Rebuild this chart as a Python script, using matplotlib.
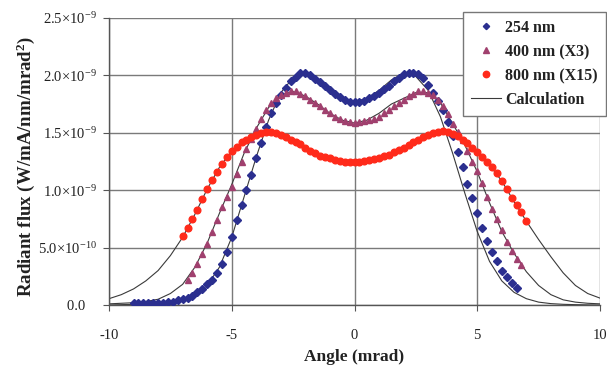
import numpy as np
import matplotlib
matplotlib.use("Agg")
import matplotlib.pyplot as plt
from matplotlib.lines import Line2D

plt.rcParams['font.family'] = ['Liberation Serif', 'DejaVu Serif']
plt.rcParams['mathtext.fontset'] = 'custom'
plt.rcParams['mathtext.rm'] = 'Liberation Serif'
plt.rcParams['mathtext.it'] = 'Liberation Serif:italic'
plt.rcParams['mathtext.bf'] = 'Liberation Serif:bold'

# ---- data (radiant flux in units of 1e-9 W/mA/nm/mrad^2) ----
x_254 = np.round(np.arange(-9.0, 6.61, 0.2), 1)
y_254 = [0.015, 0.015, 0.015, 0.015, 0.02, 0.02, 0.02, 0.025, 0.03, 0.04,
         0.05, 0.06, 0.08, 0.11, 0.14, 0.18, 0.22, 0.28, 0.36, 0.46,
         0.59, 0.74, 0.87, 1.00, 1.13, 1.28, 1.41, 1.55, 1.67, 1.76,
         1.83, 1.89, 1.95, 1.99, 2.02, 2.02, 2.00, 1.97, 1.94, 1.91,
         1.87, 1.84, 1.81, 1.785, 1.77, 1.765, 1.77, 1.78, 1.80, 1.82,
         1.85, 1.88, 1.91, 1.95, 1.98, 2.01, 2.02, 2.02, 2.01, 1.98,
         1.92, 1.85, 1.78, 1.70, 1.59, 1.47, 1.33, 1.20, 1.05, 0.93,
         0.80, 0.67, 0.56, 0.46, 0.38, 0.30, 0.24, 0.19, 0.15]

x_400 = np.round(np.arange(-6.8, 6.81, 0.2), 1)
y_400 = [0.22, 0.28, 0.36, 0.44, 0.53, 0.64, 0.74, 0.85, 0.94, 1.03,
         1.14, 1.25, 1.36, 1.45, 1.53, 1.62, 1.70, 1.76, 1.80, 1.83,
         1.85, 1.86, 1.86, 1.84, 1.82, 1.79, 1.76, 1.73, 1.70, 1.67,
         1.64, 1.62, 1.60, 1.59, 1.585, 1.59, 1.60, 1.61, 1.62, 1.64,
         1.67, 1.70, 1.73, 1.76, 1.79, 1.82, 1.84, 1.86, 1.86, 1.85,
         1.83, 1.79, 1.73, 1.66, 1.58, 1.51, 1.44, 1.34, 1.25, 1.17,
         1.06, 0.94, 0.84, 0.75, 0.65, 0.55, 0.47, 0.40, 0.35]

x_800 = np.round(np.arange(-7.0, 7.01, 0.2), 1)
y_800 = [0.60, 0.67, 0.75, 0.83, 0.92, 1.01, 1.09, 1.16, 1.23, 1.29,
         1.34, 1.38, 1.42, 1.44, 1.46, 1.48, 1.50, 1.51, 1.51, 1.50,
         1.48, 1.46, 1.44, 1.42, 1.40, 1.37, 1.34, 1.32, 1.30, 1.29,
         1.28, 1.265, 1.255, 1.25, 1.245, 1.245, 1.25, 1.255, 1.26, 1.27,
         1.28, 1.30, 1.31, 1.33, 1.35, 1.37, 1.39, 1.42, 1.44, 1.46,
         1.48, 1.50, 1.51, 1.52, 1.51, 1.49, 1.47, 1.44, 1.41, 1.37,
         1.33, 1.29, 1.25, 1.20, 1.15, 1.08, 1.01, 0.93, 0.87, 0.81,
         0.73]

x_calc = np.round(np.arange(-10.0, 10.01, 0.5), 1)
calc_254 = [0.0, 0.003, 0.006, 0.01, 0.015, 0.025, 0.045, 0.09, 0.17, 0.33,
            0.59, 0.94, 1.29, 1.61, 1.85, 1.98, 2.02, 1.96, 1.87, 1.80,
            1.77, 1.80, 1.87, 1.96, 2.02, 1.99, 1.87, 1.64, 1.32, 0.97,
            0.64, 0.38, 0.21, 0.11, 0.055, 0.025, 0.012, 0.006, 0.003, 0.001,
            0.0]
calc_400 = [0.01, 0.015, 0.02, 0.03, 0.05, 0.10, 0.18, 0.33, 0.54, 0.80,
            1.05, 1.32, 1.54, 1.72, 1.83, 1.86, 1.82, 1.75, 1.67, 1.61,
            1.585, 1.61, 1.67, 1.75, 1.80, 1.85, 1.85, 1.76, 1.58, 1.39,
            1.16, 0.89, 0.64, 0.45, 0.29, 0.17, 0.09, 0.045, 0.025, 0.015,
            0.01]
calc_800 = [0.055, 0.09, 0.14, 0.21, 0.30, 0.43, 0.59, 0.79, 1.01, 1.20,
            1.34, 1.43, 1.48, 1.51, 1.48, 1.43, 1.37, 1.32, 1.28, 1.25,
            1.245, 1.255, 1.28, 1.32, 1.37, 1.43, 1.48, 1.515, 1.49, 1.42,
            1.33, 1.22, 1.08, 0.90, 0.73, 0.57, 0.42, 0.28, 0.17, 0.10,
            0.06]

xticks = [-10, -5, 0, 5, 10]
yticks = [0.0, 0.5, 1.0, 1.5, 2.0, 2.5]
ytick_labels = ["0.0   ", "5.0\u00d710$^{-10}$", "1.0\u00d710$^{-9}$",
                "1.5\u00d710$^{-9}$", "2.0\u00d710$^{-9}$", "2.5\u00d710$^{-9}$"]
legend_labels = ["254 nm", "400 nm (X3)", "800 nm (X15)", "Calculation"]

# ---- figure ----
fig = plt.figure(figsize=(6.07, 3.73), dpi=100)
ax = fig.add_axes([109/607, 1-305/373, (600-109)/607, (305-18)/373])

c_blue = '#2b2f8f'
c_purple = '#a0406e'
c_red = '#ff2a1a'
c_line = '#3a3a3a'

for cy in (calc_254, calc_400, calc_800):
    ax.plot(x_calc, cy, color=c_line, lw=0.8, zorder=2)

ax.plot(x_254, y_254, ls='none', marker='D', ms=3.6, color=c_blue, mec=c_blue, zorder=3)
ax.plot(x_400, y_400, ls='none', marker='^', ms=4.4, color=c_purple, mec=c_purple, zorder=3)
ax.plot(x_800, y_800, ls='none', marker='o', ms=4.8, color=c_red, mec=c_red, zorder=3)

ax.set_xlim(-10, 10)
ax.set_ylim(0, 2.5)
ax.set_xticks(xticks)
ax.set_xticklabels([str(v) for v in xticks])
ax.set_yticks(yticks)
ax.set_yticklabels(ytick_labels)
ax.grid(True, color='#7a7a7a', lw=1.0, zorder=0)
ax.set_axisbelow(True)
for s in ('top', 'right'):
    ax.spines[s].set_visible(False)
for s in ('left', 'bottom'):
    ax.spines[s].set_color('#555555')
    ax.spines[s].set_linewidth(1.0)
ax.tick_params(axis='both', colors='#555555', labelcolor='#222222', labelsize=10.5,
               direction='out', length=4)
ax.tick_params(axis='x', pad=13)
ax.tick_params(axis='y', pad=5)

ax.set_xlabel("Angle (mrad)", fontsize=12.5, fontweight='bold', color='#222222')
ax.xaxis.set_label_coords(0.5, -0.153)
ax.set_ylabel("Radiant flux (W/mA/nm/mrad$^{\\mathbf{2}}$)", fontsize=13.6,
              fontweight='bold', color='#222222')
ax.yaxis.set_label_coords(-0.147, 0.484)

handles = [
    Line2D([], [], ls='none', marker='D', ms=3.2, color=c_blue),
    Line2D([], [], ls='none', marker='^', ms=4.2, color=c_purple),
    Line2D([], [], ls='none', marker='o', ms=4.6, color=c_red),
    Line2D([], [], color=c_line, lw=0.8),
]
leg = fig.legend(handles, legend_labels, loc='upper right',
                 bbox_to_anchor=(606/607, 1-12/373), bbox_transform=fig.transFigure,
                 borderaxespad=0, fancybox=False, framealpha=1, edgecolor='#777777',
                 prop={'weight': 'bold', 'size': 11.5}, handlelength=1.85,
                 handletextpad=0.3, labelspacing=0.5, borderpad=0.5)
leg.get_frame().set_linewidth(1.0)
for t in leg.get_texts():
    t.set_color('#222222')

fig.savefig("out.png", dpi=100, facecolor='white')
